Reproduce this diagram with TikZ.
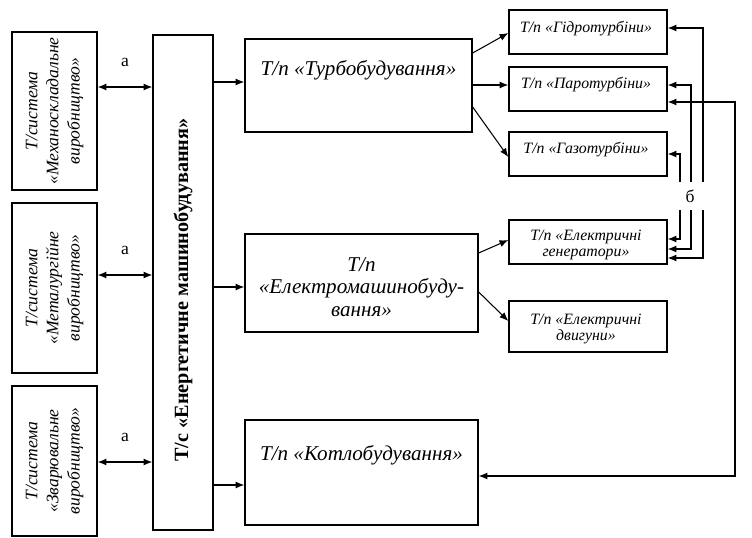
\documentclass[tikz,border=0pt]{standalone}
\usepackage{fontspec}
\setmainfont{Liberation Serif}
\usetikzlibrary{arrows.meta}
\tikzset{
  blk/.style={draw, line width=0.8pt, inner sep=0pt},
  conn/.style={line width=0.6pt, -{Latex[length=5pt,width=4pt]}},
  dconn/.style={line width=0.6pt, {Latex[length=5pt,width=4pt]}-{Latex[length=5pt,width=4pt]}},
  sidetxt/.style={rotate=90, font=\itshape, align=center},
  subtxt/.style={font=\small\itshape, align=center},
}
\begin{document}
\begin{tikzpicture}[x=0.02cm,y=-0.02cm]
  \useasboundingbox (0,0) rectangle (752,538);
  %% side subsystems
  \node[blk, minimum width=1.7cm, minimum height=3.16cm] (mech) at (54.5,111) {};
  \node[sidetxt] (mechtxt) at (mech) {Т/система\\«Механоскладальне\\виробництво»};
  \node[blk, minimum width=1.7cm, minimum height=3.4cm] (metal) at (54.5,288) {};
  \node[sidetxt] (metaltxt) at (metal) {Т/система\\«Металургійне\\виробництво»};
  \node[blk, minimum width=1.7cm, minimum height=3cm] (weld) at (54.5,461) {};
  \node[sidetxt] (weldtxt) at (weld) {Т/система\\«Зварювальне\\виробництво»};

  %% main system
  \node[blk, minimum width=1.2cm, minimum height=9.9cm] (tc) at (183,282.5) {};
  \node[rotate=90, font=\bfseries\fontsize{11.5}{13}\selectfont] (tctxt) at (183,290)
    {Т/с «Енергетичне машинобудування»};

  \draw[dconn] (mech.east |- 0,87) -- (tc.west |- 0,87) node[midway, above=8pt] {а};
  \draw[dconn] (metal.east |- 0,275) -- (tc.west |- 0,275) node[midway, above=8pt] {а};
  \draw[dconn] (weld.east |- 0,462) -- (tc.west |- 0,462) node[midway, above=8pt] {а};

  %% subbranches
  \node[blk, minimum width=4.54cm, minimum height=1.86cm] (turbo) at (358.5,85.5) {};
  \node[font=\large\itshape] (turbotxt) at (358.5,70) {Т/п «Турбобудування»};
  \node[blk, minimum width=4.66cm, minimum height=1.96cm] (elmash) at (361.5,283) {};
  \node[font=\large\itshape, align=center, text depth=0pt] (elmashtxt) at (361.5,287)
    {Т/п\\[-1pt]«Електромашинобуду-\\[-1pt]вання»};
  \node[blk, minimum width=4.66cm, minimum height=2.1cm] (kotlo) at (361.5,472.5) {};
  \node[font=\large\itshape] (kotlotxt) at (361.5,455) {Т/п «Котлобудування»};

  \draw[conn] (tc.east |- 0,82) -- (turbo.west |- 0,82);
  \draw[conn] (tc.east |- 0,287) -- (elmash.west |- 0,287);
  \draw[conn] (tc.east |- 0,485) -- (kotlo.west |- 0,485);

  %% enterprises
  \node[blk, minimum width=3.16cm, minimum height=0.88cm] (hydro) at (588,32) {};
  \node[subtxt] at (586,29) {Т/п «Гідротурбіни»};
  \node[blk, minimum width=3.16cm, minimum height=0.88cm] (paro) at (588,89) {};
  \node[subtxt] at (586,85) {Т/п «Паротурбіни»};
  \node[blk, minimum width=3.16cm, minimum height=0.88cm] (gazo) at (588,154) {};
  \node[subtxt] at (586,150) {Т/п «Газотурбіни»};
  \node[blk, minimum width=3.16cm, minimum height=0.88cm] (gen) at (588,242) {};
  \node[subtxt, text depth=0pt] at (586,243) {Т/п «Електричні\\[-2pt]генератори»};
  \node[blk, minimum width=3.16cm, minimum height=1.02cm] (dvyg) at (588,326.5) {};
  \node[subtxt, text depth=0pt] at (586,327) {Т/п «Електричні\\[-2pt]двигуни»};

  \draw[conn] (turbo.east |- 0,53) -- (hydro.west |- 0,33);
  \draw[conn] (turbo.east |- 0,85) -- (paro.west |- 0,85);
  \draw[conn] (turbo.east |- 0,107) -- (gazo.west |- 0,157);
  \draw[conn] (elmash.east |- 0,253) -- (gen.west |- 0,240);
  \draw[conn] (elmash.east |- 0,292) -- (dvyg.west |- 0,321);

  %% links b
  \node (blbl) at (690,196) {б};
  \draw[conn] (680,182) |- (gazo.east |- 0,154);
  \draw[conn] (691,182) |- (paro.east |- 0,85);
  \draw[conn] (703,182) |- (hydro.east |- 0,28);
  \draw[conn] (680,210) |- (gen.east |- 0,239);
  \draw[conn] (691,210) |- (gen.east |- 0,249);
  \draw[conn] (703,210) |- (gen.east |- 0,258);

  % boiler link
  \draw[dconn] (kotlo.east |- 0,476) -| (735,102) -- (paro.east |- 0,102);
\end{tikzpicture}
\end{document}
